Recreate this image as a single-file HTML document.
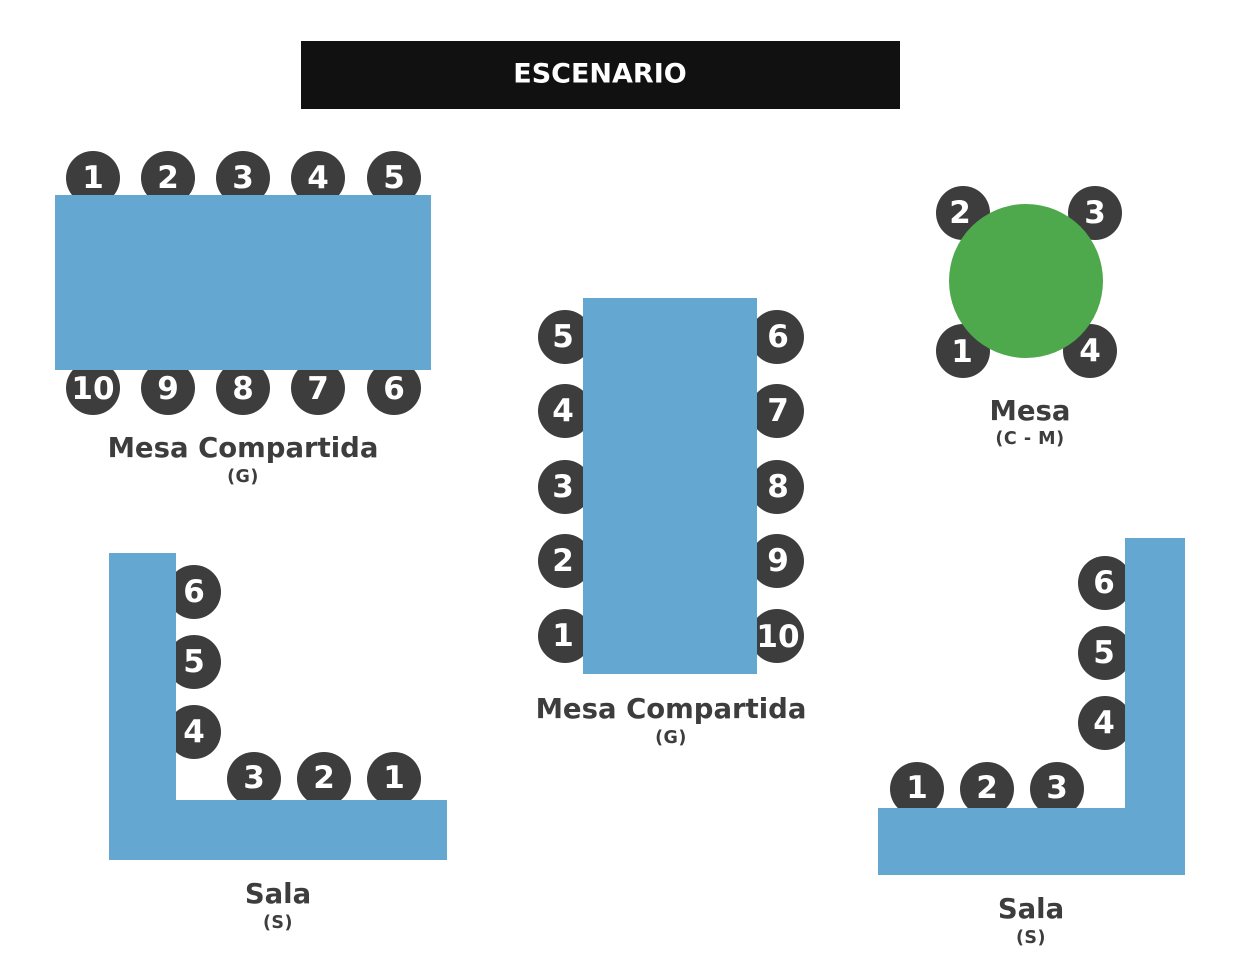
<!DOCTYPE html>
<html><head><meta charset="utf-8"><style>
html,body{margin:0;padding:0;background:#fff;}
svg{display:block;}
text{font-family:"DejaVu Sans","Liberation Sans",sans-serif;font-weight:bold;}
.n{fill:#fff;font-size:31px;text-anchor:middle;dominant-baseline:central;}
.c{fill:#3d3d3d;}
.t{fill:#64a8d1;}
.l{fill:#3d3d3d;font-size:27.5px;text-anchor:middle;}
.s{fill:#3d3d3d;font-size:17.5px;text-anchor:middle;letter-spacing:0.5px;}
</style></head><body>
<svg width="1234" height="980" viewBox="0 0 1234 980" xmlns="http://www.w3.org/2000/svg">
<rect x="301" y="41" width="599" height="68" fill="#111"/>
<text x="600" y="74" fill="#fff" font-size="27" text-anchor="middle" dominant-baseline="central">ESCENARIO</text>

<g class="c">
<circle cx="93" cy="178" r="27"/><circle cx="168" cy="178" r="27"/><circle cx="243" cy="178" r="27"/><circle cx="318" cy="178" r="27"/><circle cx="394" cy="178" r="27"/>
<circle cx="93" cy="388" r="27"/><circle cx="168" cy="388" r="27"/><circle cx="243" cy="388" r="27"/><circle cx="318" cy="388" r="27"/><circle cx="394" cy="388" r="27"/>
</g>
<rect class="t" x="55" y="195" width="376" height="175"/>
<text class="n" x="93" y="178">1</text><text class="n" x="168" y="178">2</text><text class="n" x="243" y="178">3</text><text class="n" x="318" y="178">4</text><text class="n" x="394" y="178">5</text>
<text class="n" x="93" y="389">10</text><text class="n" x="168" y="389">9</text><text class="n" x="243" y="389">8</text><text class="n" x="318" y="389">7</text><text class="n" x="394" y="389">6</text>
<text class="l" x="243" y="457">Mesa Compartida</text>
<text class="s" x="243" y="482">(G)</text>

<g class="c">
<circle cx="565" cy="337" r="27"/><circle cx="565" cy="411" r="27"/><circle cx="565" cy="487" r="27"/><circle cx="565" cy="561" r="27"/><circle cx="565" cy="636" r="27"/>
<circle cx="777" cy="337" r="27"/><circle cx="777" cy="411" r="27"/><circle cx="777" cy="487" r="27"/><circle cx="777" cy="561" r="27"/><circle cx="777" cy="636" r="27"/>
</g>
<rect class="t" x="583" y="298" width="174" height="376"/>
<text class="n" x="563" y="337">5</text><text class="n" x="563" y="411">4</text><text class="n" x="563" y="487">3</text><text class="n" x="563" y="561">2</text><text class="n" x="563" y="636">1</text>
<text class="n" x="778" y="337">6</text><text class="n" x="778" y="411">7</text><text class="n" x="778" y="487">8</text><text class="n" x="778" y="561">9</text><text class="n" x="778" y="637">10</text>
<text class="l" x="671" y="718">Mesa Compartida</text>
<text class="s" x="671" y="743">(G)</text>

<g class="c">
<circle cx="963" cy="213" r="27"/><circle cx="1095" cy="213" r="27"/><circle cx="963" cy="351" r="27"/><circle cx="1090" cy="351" r="27"/>
</g>
<circle cx="1026" cy="281" r="77" fill="#4ea84c"/>
<text class="n" x="960" y="213">2</text><text class="n" x="1095" y="213">3</text><text class="n" x="962" y="352">1</text><text class="n" x="1090" y="351">4</text>
<text class="l" x="1030" y="420">Mesa</text>
<text class="s" x="1030" y="444">(C - M)</text>

<g class="c">
<circle cx="194" cy="592" r="27"/><circle cx="194" cy="662" r="27"/><circle cx="194" cy="732" r="27"/>
<circle cx="254" cy="779" r="27"/><circle cx="324" cy="779" r="27"/><circle cx="394" cy="779" r="27"/>
</g>
<rect class="t" x="109" y="553" width="67" height="307"/>
<rect class="t" x="109" y="800" width="338" height="60"/>
<text class="n" x="194" y="592">6</text><text class="n" x="194" y="662">5</text><text class="n" x="194" y="732">4</text>
<text class="n" x="254" y="778">3</text><text class="n" x="324" y="778">2</text><text class="n" x="394" y="778">1</text>
<text class="l" x="278" y="903">Sala</text>
<text class="s" x="278" y="928">(S)</text>

<g class="c">
<circle cx="1105" cy="583" r="27"/><circle cx="1105" cy="653" r="27"/><circle cx="1105" cy="723" r="27"/>
<circle cx="917" cy="789" r="27"/><circle cx="987" cy="789" r="27"/><circle cx="1057" cy="789" r="27"/>
</g>
<rect class="t" x="1125" y="538" width="60" height="337"/>
<rect class="t" x="878" y="808" width="307" height="67"/>
<text class="n" x="1104" y="583">6</text><text class="n" x="1104" y="653">5</text><text class="n" x="1104" y="723">4</text>
<text class="n" x="917" y="788">1</text><text class="n" x="987" y="788">2</text><text class="n" x="1057" y="788">3</text>
<text class="l" x="1031" y="918">Sala</text>
<text class="s" x="1031" y="943">(S)</text>
</svg>
</body></html>
